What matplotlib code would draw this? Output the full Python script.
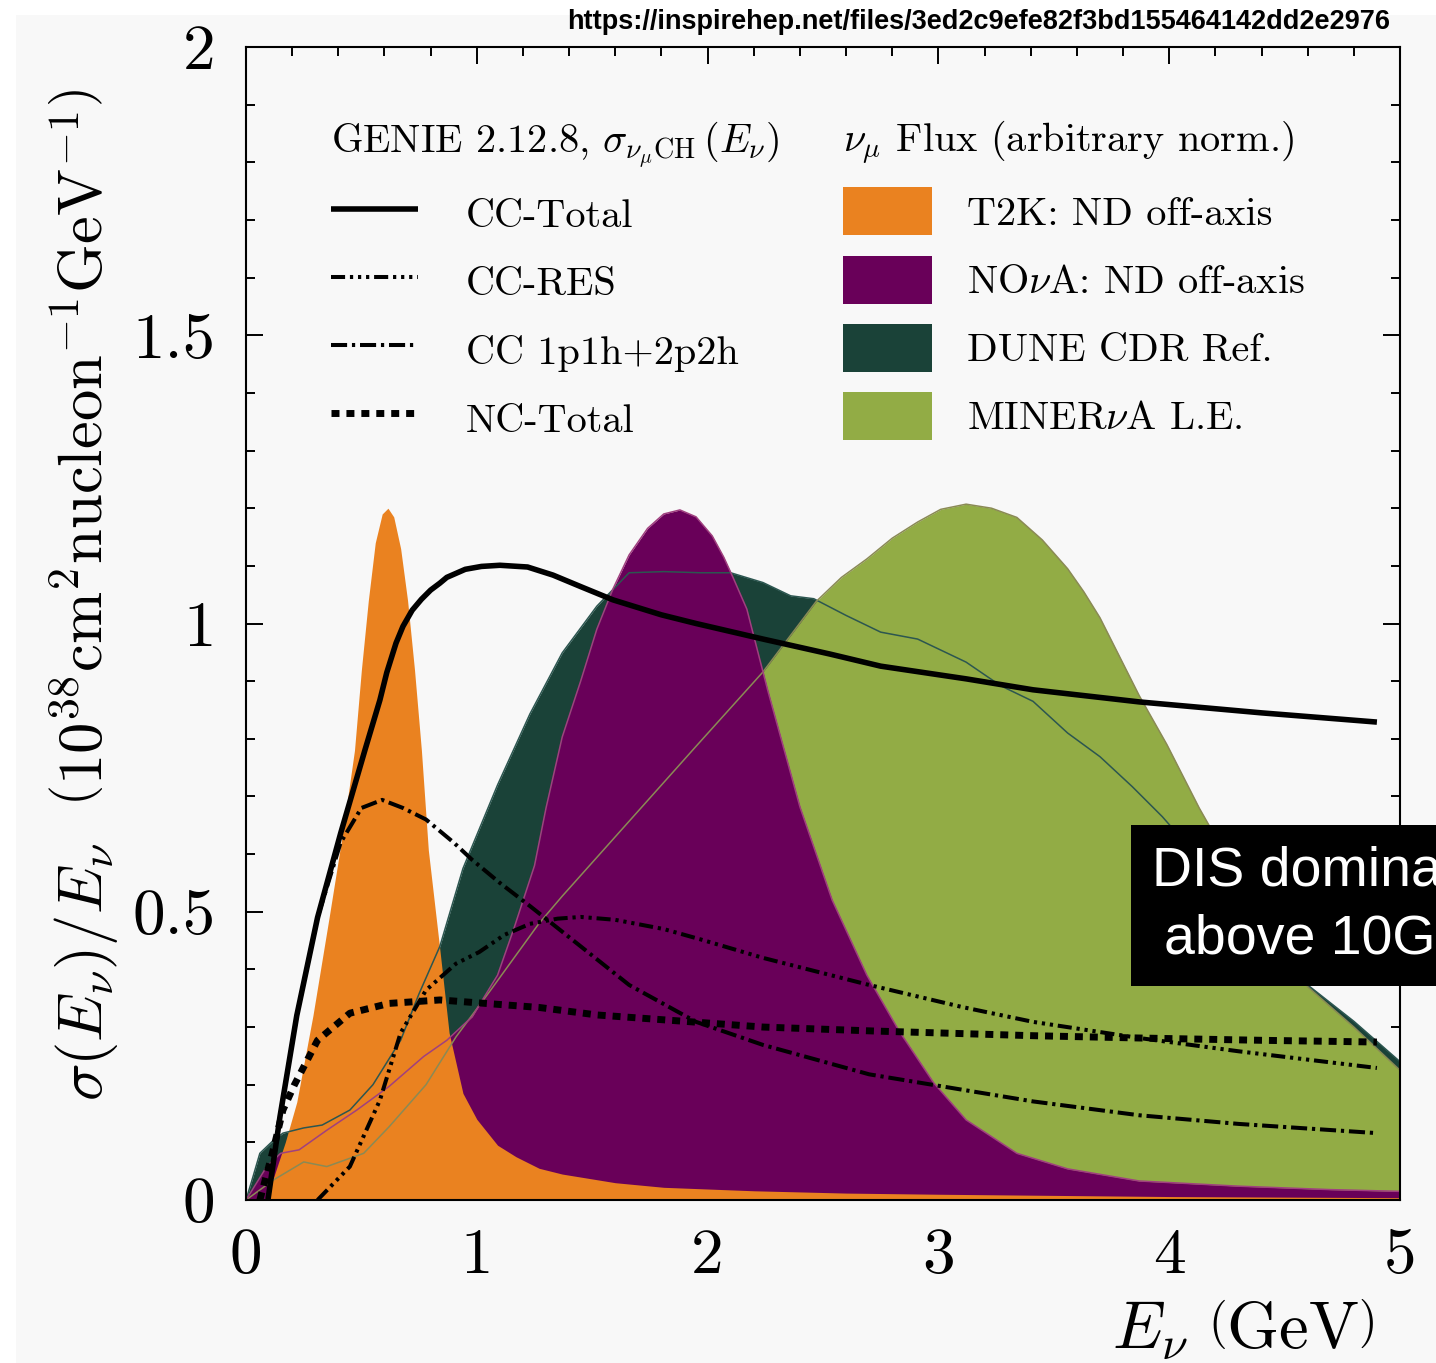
import matplotlib
matplotlib.use("Agg")
import matplotlib.pyplot as plt
from matplotlib.patches import Rectangle
from matplotlib.ticker import FixedLocator, FixedFormatter, MultipleLocator

plt.rcParams["font.family"] = "serif"
plt.rcParams["font.serif"] = ["cmr10"]
plt.rcParams["mathtext.fontset"] = "cm"
plt.rcParams["axes.unicode_minus"] = False

# ---------------- GENIE cross sections, sigma/E (1e-38 cm^2 / nucleon / GeV)
cc_total_E = [0.095, 0.147, 0.22, 0.31, 0.41, 0.515, 0.58, 0.61, 0.65, 0.68, 0.72, 0.76, 0.80,
              0.84, 0.87, 0.95, 1.02, 1.10, 1.22, 1.33, 1.45, 1.59, 1.80, 1.95, 2.24, 2.53,
              2.75, 3.12, 3.41, 3.87, 4.40, 4.90]
cc_total = [0.0, 0.144, 0.32, 0.49, 0.636, 0.78, 0.867, 0.915, 0.966, 0.995, 1.023, 1.042, 1.058,
            1.07, 1.08, 1.094, 1.099, 1.101, 1.098, 1.084, 1.064, 1.041, 1.015, 1.0, 0.973, 0.947,
            0.926, 0.904, 0.885, 0.864, 0.845, 0.829]

cc_res_E = [0.31, 0.45, 0.58, 0.67, 0.78, 0.91, 1.01, 1.12, 1.23, 1.35, 1.45, 1.60, 1.81,
            1.97, 2.24, 2.70, 3.10, 3.41, 3.87, 4.30, 4.90]
cc_res = [0.0, 0.058, 0.173, 0.29, 0.364, 0.41, 0.43, 0.46, 0.479, 0.488, 0.491, 0.486, 0.47,
          0.452, 0.42, 0.373, 0.335, 0.309, 0.281, 0.258, 0.229]

cc_qe_E = [0.095, 0.147, 0.22, 0.31, 0.41, 0.50, 0.59, 0.68, 0.78, 0.90, 0.98, 1.10, 1.23,
           1.45, 1.66, 1.95, 2.24, 2.70, 3.41, 3.87, 4.30, 4.90]
cc_qe = [0.0, 0.144, 0.32, 0.49, 0.62, 0.68, 0.694, 0.68, 0.66, 0.62, 0.59, 0.55, 0.51,
         0.44, 0.373, 0.309, 0.269, 0.218, 0.171, 0.147, 0.132, 0.116]

nc_total_E = [0.06, 0.12, 0.16, 0.21, 0.31, 0.45, 0.62, 0.84, 1.27, 1.52, 2.24, 2.73,
              3.41, 3.87, 4.40, 4.90]
nc_total = [0.0, 0.09, 0.156, 0.20, 0.277, 0.324, 0.341, 0.347, 0.334, 0.321, 0.30, 0.293,
            0.285, 0.281, 0.277, 0.274]

# ---------------- numu fluxes (arbitrary normalisation)
dune_E = [0.0, 0.03, 0.06, 0.12, 0.16, 0.25, 0.33, 0.45, 0.55, 0.67, 0.75, 0.84, 0.94, 1.09,
          1.23, 1.37, 1.52, 1.66, 1.81, 1.97, 2.10, 2.24, 2.36, 2.46, 2.60, 2.75, 2.91, 3.12,
          3.27, 3.41, 3.56, 3.70, 3.84, 3.97, 4.20, 4.40, 4.60, 4.80, 5.0]
dune = [0.0, 0.04, 0.081, 0.104, 0.116, 0.125, 0.13, 0.156, 0.20, 0.277, 0.358, 0.44, 0.575, 0.72,
        0.843, 0.949, 1.03, 1.088, 1.09, 1.088, 1.088, 1.071, 1.048, 1.043, 1.014, 0.985, 0.973, 0.933,
        0.892, 0.865, 0.81, 0.769, 0.717, 0.665, 0.56, 0.47, 0.373, 0.31, 0.24]

minerva_E = [0.0, 0.12, 0.25, 0.35, 0.51, 0.62, 0.78, 0.91, 1.06, 1.27, 1.37, 1.66, 1.95, 2.24,
             2.47, 2.58, 2.69, 2.80, 2.91, 3.01, 3.12, 3.23, 3.34, 3.45, 3.56, 3.63, 3.70, 3.87,
             3.99, 4.13, 4.30, 4.45, 4.60, 4.80, 5.0]
minerva = [0.0, 0.035, 0.066, 0.058, 0.081, 0.127, 0.20, 0.283, 0.364, 0.48, 0.527, 0.657, 0.787, 0.916,
           1.038, 1.08, 1.112, 1.148, 1.176, 1.198, 1.207, 1.20, 1.184, 1.145, 1.095, 1.055, 1.01, 0.875,
           0.79, 0.68, 0.56, 0.47, 0.37, 0.30, 0.225]

nova_E = [0.0, 0.09, 0.15, 0.23, 0.35, 0.48, 0.62, 0.77, 0.87, 0.98, 1.09, 1.16, 1.25, 1.30,
          1.37, 1.45, 1.52, 1.59, 1.66, 1.74, 1.81, 1.88, 1.95, 2.02, 2.07, 2.11, 2.17, 2.26,
          2.40, 2.54, 2.69, 2.83, 2.98, 3.12, 3.34, 3.56, 3.87, 4.30, 4.70, 5.0]
nova = [0.0, 0.058, 0.081, 0.087, 0.121, 0.156, 0.197, 0.249, 0.277, 0.318, 0.39, 0.47, 0.58, 0.68,
        0.803, 0.90, 0.99, 1.06, 1.119, 1.165, 1.19, 1.197, 1.185, 1.152, 1.115, 1.08, 1.025, 0.885,
        0.682, 0.52, 0.39, 0.293, 0.203, 0.139, 0.081, 0.054, 0.033, 0.024, 0.018, 0.015]

t2k_E = [0.08, 0.12, 0.17, 0.22, 0.29, 0.36, 0.42, 0.47, 0.50, 0.53, 0.56, 0.59, 0.615, 0.64,
         0.67, 0.70, 0.73, 0.76, 0.79, 0.84, 0.88, 0.94, 1.00, 1.09, 1.17, 1.27, 1.37, 1.60,
         1.81, 2.20, 2.60, 3.00, 3.50, 4.00, 4.50, 5.0]
t2k = [0.0, 0.04, 0.10, 0.17, 0.32, 0.49, 0.64, 0.78, 0.92, 1.04, 1.14, 1.19, 1.20, 1.185,
       1.13, 1.04, 0.92, 0.78, 0.607, 0.434, 0.29, 0.185, 0.14, 0.095, 0.075, 0.055, 0.045, 0.03,
       0.022, 0.016, 0.012, 0.01, 0.008, 0.006, 0.005, 0.004]

x_ticks = [0, 1, 2, 3, 4, 5]
x_tick_labels = ["0", "1", "2", "3", "4", "5"]
y_ticks = [0, 0.5, 1, 1.5, 2]
y_tick_labels = ["0", "0.5", "1", "1.5", "2"]

C_T2K = "#EA8220"
C_NOVA = "#690059"
C_DUNE = "#1A4238"
C_MINERVA = "#92AC45"
BG = "#f8f8f8"

W, H = 1436, 1363
fig = plt.figure(figsize=(W / 100, H / 100), dpi=100, facecolor="white")
fig.patches.append(Rectangle((16 / W, 0), 1 - 16 / W, 1 - 15 / H, transform=fig.transFigure,
                             facecolor=BG, edgecolor="none", zorder=-1))
ax = fig.add_axes([246 / W, 1 - 1200 / H, (1400 - 246) / W, (1200 - 47) / H])
ax.set_facecolor(BG)

# flux fills, bottom to top
f_dune = ax.fill_between(dune_E, 0, dune, color=C_DUNE, lw=0, zorder=1)
f_min = ax.fill_between(minerva_E, 0, minerva, color=C_MINERVA, lw=0, zorder=2)
f_nova = ax.fill_between(nova_E, 0, nova, color=C_NOVA, lw=0, zorder=3)
f_t2k = ax.fill_between(t2k_E, 0, t2k, color=C_T2K, lw=0, zorder=4)

# thin flux outlines on top of all fills
ax.plot(dune_E, dune, color="#2c5650", lw=1.1, zorder=5)
ax.plot(minerva_E, minerva, color="#8a8a55", lw=1.1, zorder=5)
ax.plot(nova_E, nova, color="#a0407f", lw=1.1, zorder=5)

# cross-section curves
l_tot, = ax.plot(cc_total_E, cc_total, color="black", lw=4.0, solid_capstyle="butt",
                 solid_joinstyle="round", zorder=8)
l_res, = ax.plot(cc_res_E, cc_res, color="black", lw=2.9, zorder=7,
                 dashes=(3.5, 1.2, 0.8, 1.2, 0.8, 1.2, 0.8, 1.2))
l_qe, = ax.plot(cc_qe_E, cc_qe, color="black", lw=2.9, zorder=7,
                dashes=(4.0, 1.2, 0.8, 1.2))
l_nc, = ax.plot(nc_total_E, nc_total, color="black", lw=5.0, zorder=7,
                dashes=(1.15, 1.0))

ax.set_xlim(0, 5)
ax.set_ylim(0, 2)
ax.xaxis.set_major_locator(FixedLocator(x_ticks))
ax.xaxis.set_major_formatter(FixedFormatter(x_tick_labels))
ax.yaxis.set_major_locator(FixedLocator(y_ticks))
ax.yaxis.set_major_formatter(FixedFormatter(y_tick_labels))
ax.xaxis.set_minor_locator(MultipleLocator(0.2))
ax.yaxis.set_minor_locator(MultipleLocator(0.1))
ax.tick_params(which="both", direction="in", top=True, right=True, width=1.4, zorder=10)
ax.tick_params(which="major", length=12.5, labelsize=47)
ax.tick_params(which="minor", length=6.5)
ax.tick_params(axis="x", which="major", pad=20)
ax.tick_params(axis="y", which="major", pad=22)
for s in ax.spines.values():
    s.set_linewidth(1.5)
    s.set_zorder(10)

ax.set_ylabel(r"$\sigma(E_{\nu})/E_{\nu}\ \ \left(10^{38}\mathrm{cm}^{2}\mathrm{nucleon}^{-1}\mathrm{GeV}^{-1}\right)$",
              fontsize=45, va="center", ha="center")
ax.yaxis.set_label_coords((85 - 246) / (1400 - 246), (1200 - 595) / (1200 - 47))
ax.set_xlabel(r"$E_{\nu}\ \left(\mathrm{GeV}\right)$", fontsize=48, va="center", ha="center")
ax.xaxis.set_label_coords((1243 - 246) / (1400 - 246), (1200 - 1330) / (1200 - 47))

leg_kw = dict(frameon=False, fontsize=29, title_fontsize=29, alignment="left",
              borderpad=0, borderaxespad=0, loc="upper left", handleheight=1.46,
              labelspacing=0.5, bbox_transform=fig.transFigure)
leg1 = ax.legend([l_tot, l_res, l_qe, l_nc],
                 ["CC-Total", "CC-RES", "CC 1p1h+2p2h", "NC-Total"],
                 title=r"GENIE 2.12.8, $\sigma_{\nu_{\mu}\mathrm{CH}}\,(E_{\nu})$",
                 bbox_to_anchor=(331 / W, 1 - 119 / H), handlelength=2.16,
                 handletextpad=1.19, **leg_kw)
ax.add_artist(leg1)
leg2 = ax.legend([f_t2k, f_nova, f_dune, f_min],
                 ["T2K: ND off-axis", r"NO$\nu$A: ND off-axis", "DUNE CDR Ref.", r"MINER$\nu$A L.E."],
                 title=r"$\nu_{\mu}$ Flux (arbitrary norm.)",
                 bbox_to_anchor=(843 / W, 1 - 119 / H), handlelength=2.2,
                 handletextpad=0.87, **leg_kw)

fig.text(1390 / W, 1 - 22 / H, "https://inspirehep.net/files/3ed2c9efe82f3bd155464142dd2e2976",
         ha="right", va="center", fontsize=19.5, fontweight="bold", family="Liberation Sans")

fig.text(1152 / W, 1 - 953 / H, "DIS dominates\nabove 10GeV", ha="left", va="baseline",
         multialignment="center", color="white", fontsize=40, family="Liberation Sans",
         linespacing=1.38, zorder=20,
         bbox=dict(facecolor="black", edgecolor="none", boxstyle="square,pad=0.38"))

fig.savefig("out.png", dpi=100, facecolor=fig.get_facecolor())
